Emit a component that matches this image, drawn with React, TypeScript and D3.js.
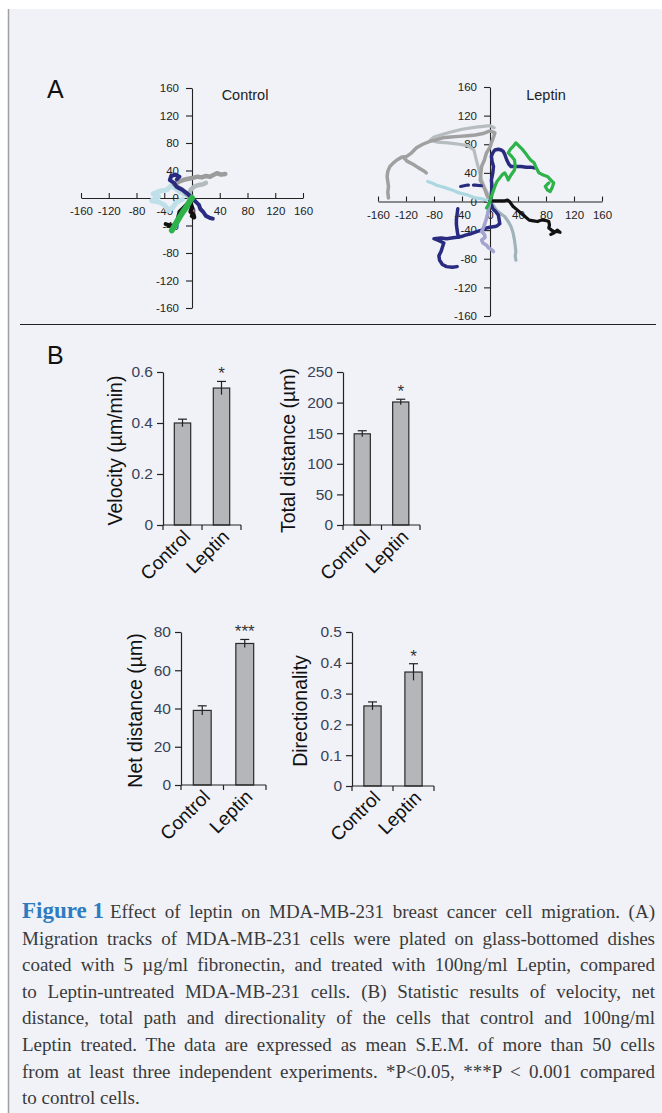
import React, { useEffect, useRef } from 'react'
import * as d3 from 'd3'

type Pt = [number, number]

// ---- panel A: migration tracks (µm) ----
const trackTicks = [-160, -120, -80, -40, 0, 40, 80, 120, 160]

const controlGray: Pt[] = [[0, 0], [-8, 6], [-14, 12], [-22, 17], [-26, 20], [-18, 24], [-10, 27], [0, 29], [8, 31], [14, 30], [20, 32], [26, 31], [30, 33], [36, 36], [42, 34], [48, 35]]
const controlSilver: Pt[] = [[0, 0], [-4, 6], [-2, 12], [4, 17], [10, 19], [16, 20], [20, 22]]
const controlCyan: Pt[] = [[0, 0], [-8, 4], [-16, 8], [-24, 14], [-30, 18], [-36, 12], [-46, 10], [-56, 6], [-48, 2], [-58, -4], [-48, -6], [-40, -10], [-34, -18], [-28, -14], [-22, -6], [-14, -2]]
const controlNavy1: Pt[] = [[0, 0], [-6, 6], [-14, 12], [-22, 16], [-26, 22], [-32, 26], [-30, 32], [-24, 34], [-18, 31], [-22, 27]]
const controlNavy2: Pt[] = [[0, 0], [6, -6], [10, -10], [12, -16], [16, -20], [20, -26], [26, -29], [30, -30]]
const controlGreen: Pt[] = [[0, 0], [-4, -6], [-8, -13], [-13, -20], [-18, -28], [-22, -35], [-26, -42], [-29, -47]]
const controlBlack1: Pt[] = [[0, 0], [-6, -8], [-12, -14], [-18, -20], [-20, -28], [-22, -36], [-26, -40], [-32, -40], [-38, -38]]
const controlBlack2: Pt[] = [[0, 0], [-2, -8], [0, -14], [-2, -20], [2, -24], [3, -28], [0, -26]]

const leptinGray: Pt[] = [[0, 0], [-4, 8], [-7, 16], [-11, 24], [-14, 30], [-13, 40], [-12, 49], [-8, 58], [-5, 68], [0, 76], [2, 82], [5, 90], [7, 96], [2, 98], [-2, 98], [-10, 95], [-21, 93], [-32, 92], [-44, 91], [-56, 90], [-68, 89], [-78, 86], [-86, 84], [-96, 80], [-105, 75], [-112, 68], [-119, 63], [-126, 62], [-133, 58], [-138, 54], [-143, 49], [-146, 42], [-147, 35], [-146, 28], [-145, 21], [-146, 13], [-145, 5]]
const leptinGrayBranch: Pt[] = [[-124, 62], [-118, 56], [-110, 52], [-102, 47], [-95, 43], [-91, 40]]
const leptinSilver: Pt[] = [[0, 0], [-3, 10], [-8, 20], [-12, 30], [-16, 45], [-20, 60], [-23, 72], [-32, 78], [-44, 80], [-60, 82], [-75, 83], [-85, 86], [-80, 90], [-60, 96], [-40, 101], [-20, 104], [0, 106], [6, 103]]
const leptinSteel: Pt[] = [[0, 0], [5, -6], [9, -12], [15, -17], [21, -21], [26, -28], [30, -35], [33, -44], [35, -54], [36, -62], [37, -70], [36, -76], [37, -82]]
const leptinCyan: Pt[] = [[0, 0], [-5, 2], [-13, 4], [-21, 5], [-32, 9], [-44, 12], [-54, 16], [-63, 19], [-70, 21], [-77, 23], [-83, 26], [-89, 28]]
const leptinNavyDash: Pt[] = [[-42, 21], [-32, 23], [-21, 23], [-12, 22], [-6, 20]]
const leptinNavyUp: Pt[] = [[0, 0], [2, 6], [2, 12], [3, 20], [2, 30], [4, 40], [5, 49], [3, 56], [2, 63], [4, 68], [7, 72], [12, 73], [16, 72], [19, 70], [21, 66], [24, 58], [27, 52], [30, 49], [37, 49], [44, 49], [52, 48], [58, 48], [63, 47]]
const leptinGreen: Pt[] = [[-5, -9], [-2, -4], [0, 0], [3, 10], [7, 21], [10, 28], [14, 33], [18, 38], [21, 40], [24, 35], [26, 30], [30, 37], [35, 44], [36, 50], [35, 58], [31, 63], [26, 68], [29, 73], [33, 77], [37, 82], [42, 77], [47, 72], [51, 67], [54, 63], [58, 58], [63, 54], [66, 47], [70, 40], [76, 37], [82, 35], [87, 30], [91, 26], [89, 20], [86, 14], [82, 16], [79, 21], [84, 26]]
const leptinBlack: Pt[] = [[0, 0], [4, 1], [10, 1], [16, 1], [21, 1], [25, 2], [28, 0], [30, -3], [33, -7], [38, -11], [44, -16], [50, -21], [56, -26], [62, -27], [68, -28], [73, -26], [77, -26], [81, -27], [84, -28], [85, -33], [84, -37], [88, -40], [91, -42], [96, -42], [100, -43], [96, -40], [91, -44], [87, -46]]
const leptinNavyLow: Pt[] = [[0, 0], [2, -5], [4, -10], [8, -14], [12, -19], [13, -25], [14, -31], [10, -34], [7, -35], [0, -36], [-5, -37], [-12, -40], [-19, -42], [-27, -45], [-35, -47], [-41, -49], [-47, -50], [-55, -51], [-62, -52], [-70, -51], [-80, -52], [-72, -55], [-66, -58], [-68, -64], [-70, -70], [-73, -76], [-72, -82], [-68, -88], [-62, -91], [-54, -92], [-47, -91]]
const leptinNavyLow2: Pt[] = [[-46, -10], [-47, -18], [-48, -25], [-48, -32], [-47, -40], [-46, -46], [-45, -50]]
const leptinLavender: Pt[] = [[0, 0], [-2, -10], [-4, -20], [-7, -30], [-10, -38], [-12, -42], [-8, -46], [-7, -50], [-12, -54], [-10, -58], [-5, -61], [-2, -65], [2, -67], [5, -70]]

// ---- panel B: bar charts ----
const groups = ['Control', 'Leptin']
const velocityMean = [0.40, 0.537]
const velocityErr = [0.015, 0.026]
const totalMean = [149, 201]
const totalErr = [5, 4.5]
const netMean = [39, 74]
const netErr = [2.4, 2.1]
const dirMean = [0.26, 0.37]
const dirErr = [0.013, 0.027]
const velocityTicks = [0, 0.2, 0.4, 0.6]
const totalTicks = [0, 50, 100, 150, 200, 250]
const netTicks = [0, 20, 40, 60, 80]
const dirTicks = [0, 0.1, 0.2, 0.3, 0.4, 0.5]

const captionLines = [
  'Effect of leptin on MDA-MB-231 breast cancer cell migration. (A)',
  'Migration tracks of MDA-MB-231 cells were plated on glass-bottomed dishes',
  'coated with 5 µg/ml fibronectin, and treated with 100ng/ml Leptin, compared',
  'to Leptin-untreated MDA-MB-231 cells. (B) Statistic results of velocity, net',
  'distance, total path and directionality of the cells that control and 100ng/ml',
  'Leptin treated. The data are expressed as mean S.E.M. of more than 50 cells',
  'from at least three independent experiments. *P<0.05, ***P < 0.001 compared',
  'to control cells.'
]

const SANS = 'Liberation Sans, Arial, sans-serif'
const SERIF = 'Liberation Serif, Times New Roman, serif'
const NAVY = '#282b80'

function drawTracks(svg: any, opts: any) {
  const x = d3.scaleLinear().domain([-160, 160]).range(opts.xRange)
  const y = d3.scaleLinear().domain([-160, 160]).range(opts.yRange)
  const g = svg.append('g')
  const fmt = (d: number) => String(d)

  const xa = g.append('g')
    .attr('transform', `translate(0,${y(0)})`)
    .call(d3.axisBottom(x).tickValues(trackTicks).tickFormat(fmt).tickSizeInner(-5).tickSizeOuter(0).tickPadding(9))
  const ya = g.append('g')
    .attr('transform', `translate(${x(0)},0)`)
    .call(d3.axisLeft(y).tickValues(trackTicks).tickFormat(fmt).tickSizeInner(6).tickSizeOuter(0).tickPadding(7))
  ;[xa, ya].forEach(a => {
    a.attr('font-family', SANS).attr('font-size', 11.5)
    a.selectAll('.domain, .tick line').attr('stroke', '#222').attr('stroke-width', 1.1)
    a.selectAll('.tick text').attr('fill', '#222')
  })

  const line = d3.line<Pt>().x(d => x(d[0])).y(d => y(d[1]))
  opts.tracks.forEach((t: any) => {
    g.append('path')
      .attr('d', line(t.pts))
      .attr('fill', 'none')
      .attr('stroke', t.color)
      .attr('stroke-width', t.width || 3.2)
      .attr('stroke-linejoin', 'round')
      .attr('stroke-linecap', 'round')
      .attr('stroke-dasharray', t.dash || null)
  })

  g.append('text')
    .attr('x', opts.titleX).attr('y', 100)
    .attr('text-anchor', 'middle')
    .attr('font-family', SANS).attr('font-size', 14.5).attr('fill', '#222')
    .text(opts.title)
}

function drawBars(svg: any, c: any) {
  const x = d3.scaleBand().domain(groups).range([c.x0, c.x1]).paddingInner(0.58).paddingOuter(0.29)
  const y = d3.scaleLinear().domain([0, c.max]).range([c.y0, c.yTop])
  const g = svg.append('g')

  g.selectAll('rect.bar')
    .data(c.means)
    .join('rect')
    .attr('class', 'bar')
    .attr('x', (d: number, i: number) => x(groups[i]))
    .attr('y', (d: number) => y(d))
    .attr('width', x.bandwidth())
    .attr('height', (d: number) => c.y0 - y(d))
    .attr('fill', '#b5b6ba')
    .attr('stroke', '#2a2a2a')
    .attr('stroke-width', 1.2)

  const cx = (i: number) => (x(groups[i]) as number) + x.bandwidth() / 2
  c.means.forEach((m: number, i: number) => {
    const e = c.errs[i]
    g.append('line').attr('x1', cx(i)).attr('x2', cx(i)).attr('y1', y(m - e)).attr('y2', y(m + e))
      .attr('stroke', '#222').attr('stroke-width', 1.2)
    g.append('line').attr('x1', cx(i) - 4.5).attr('x2', cx(i) + 4.5).attr('y1', y(m + e)).attr('y2', y(m + e))
      .attr('stroke', '#222').attr('stroke-width', 1.2)
    if (c.stars[i]) {
      g.append('text').attr('x', cx(i)).attr('y', y(m + e) - 2)
        .attr('text-anchor', 'middle').attr('font-family', SANS).attr('font-size', 17).attr('fill', '#333')
        .text(c.stars[i])
    }
  })

  const ya = g.append('g')
    .attr('transform', `translate(${c.x0},0)`)
    .call(d3.axisLeft(y).tickValues(c.ticks).tickFormat(c.fmt).tickSizeInner(6).tickSizeOuter(0).tickPadding(4))
  ya.attr('font-family', SANS).attr('font-size', 15.5)
  ya.selectAll('.domain, .tick line').attr('stroke', '#222').attr('stroke-width', 1.2)
  ya.selectAll('.tick text').attr('fill', '#3a4258')

  g.append('line').attr('x1', c.x0).attr('x2', c.x1).attr('y1', c.y0).attr('y2', c.y0)
    .attr('stroke', '#222').attr('stroke-width', 1.2)
  ;[0, 1, 2].forEach(k => {
    const tx = c.x0 + k * x.step()
    g.append('line').attr('x1', tx).attr('x2', tx).attr('y1', c.y0).attr('y2', c.y0 + 5)
      .attr('stroke', '#222').attr('stroke-width', 1.2)
  })

  groups.forEach((name, i) => {
    g.append('text')
      .attr('transform', `translate(${cx(i) + 9},${c.y0 + 13}) rotate(-45)`)
      .attr('text-anchor', 'end')
      .attr('font-family', SANS).attr('font-size', 19).attr('fill', '#111')
      .text(name)
  })

  g.append('text')
    .attr('transform', `translate(${c.titleX},${(c.y0 + c.yTop) / 2 + 2}) rotate(-90)`)
    .attr('text-anchor', 'middle')
    .attr('font-family', SANS).attr('font-size', 19.5).attr('fill', '#111')
    .text(c.title)
}

export default function App() {
  const ref = useRef<SVGSVGElement>(null)

  useEffect(() => {
    const svg = d3.select(ref.current)
    svg.selectAll('*').remove()

    svg.append('rect').attr('x', 8).attr('y', 9).attr('width', 654).attr('height', 1104).attr('fill', '#f0f2f8')
    svg.append('line').attr('x1', 8.5).attr('x2', 8.5).attr('y1', 9).attr('y2', 1113).attr('stroke', '#a0a0a0').attr('stroke-width', 1.5)
    svg.append('line').attr('x1', 20).attr('x2', 656).attr('y1', 324.5).attr('y2', 324.5).attr('stroke', '#222').attr('stroke-width', 1.2)

    svg.append('text').attr('x', 47).attr('y', 98).attr('font-family', SANS).attr('font-size', 25).attr('fill', '#111').text('A')
    svg.append('text').attr('x', 47).attr('y', 364).attr('font-family', SANS).attr('font-size', 25).attr('fill', '#111').text('B')

    drawTracks(svg, {
      xRange: [81, 303], yRange: [308, 88], title: 'Control', titleX: 245,
      tracks: [
        { pts: controlCyan, color: '#bfe0e8', width: 5 },
        { pts: controlGray, color: '#9c9c9c', width: 4.5 },
        { pts: controlSilver, color: '#b4bbbe', width: 4.5 },
        { pts: controlNavy1, color: NAVY, width: 4 },
        { pts: controlNavy2, color: NAVY, width: 4 },
        { pts: controlBlack1, color: '#111', width: 4 },
        { pts: controlBlack2, color: '#111', width: 4.5 },
        { pts: controlGreen, color: '#2db34a', width: 6 }
      ]
    })

    drawTracks(svg, {
      xRange: [378, 602], yRange: [316, 87], title: 'Leptin', titleX: 546,
      tracks: [
        { pts: leptinSilver, color: '#b7bcbe' },
        { pts: leptinGray, color: '#a0a0a0', width: 3.5 },
        { pts: leptinGrayBranch, color: '#a0a0a0', width: 3.5 },
        { pts: leptinCyan, color: '#abd8e0' },
        { pts: leptinSteel, color: '#9fb3b9' },
        { pts: leptinNavyDash, color: NAVY, dash: '8,5' },
        { pts: leptinNavyUp, color: NAVY, width: 3.5 },
        { pts: leptinNavyLow, color: NAVY, width: 3.5 },
        { pts: leptinNavyLow2, color: NAVY, width: 3.5 },
        { pts: leptinLavender, color: '#a4a4d0', width: 3.5 },
        { pts: leptinBlack, color: '#111', width: 3.2 },
        { pts: leptinGreen, color: '#2db34a', width: 3.2 }
      ]
    })

    const dec = (d: number) => (d === 0 ? '0' : d.toFixed(1))
    const int = (d: number) => String(d)
    drawBars(svg, { x0: 163, x1: 241, y0: 525, yTop: 372, max: 0.6, ticks: velocityTicks, fmt: dec, means: velocityMean, errs: velocityErr, stars: ['', '*'], title: 'Velocity (µm/min)', titleX: 122 })
    drawBars(svg, { x0: 343, x1: 420, y0: 525, yTop: 372, max: 250, ticks: totalTicks, fmt: int, means: totalMean, errs: totalErr, stars: ['', '*'], title: 'Total distance (µm)', titleX: 295 })
    drawBars(svg, { x0: 181, x1: 266, y0: 785, yTop: 632, max: 80, ticks: netTicks, fmt: int, means: netMean, errs: netErr, stars: ['', '***'], title: 'Net distance (µm)', titleX: 142 })
    drawBars(svg, { x0: 352, x1: 434, y0: 786, yTop: 632, max: 0.5, ticks: dirTicks, fmt: dec, means: dirMean, errs: dirErr, stars: ['', '*'], title: 'Directionality', titleX: 307 })

    // caption, justified by word spacing
    const left = 22, right = 655, top = 918, lh = 26.6
    const fig = svg.append('text').attr('x', left).attr('y', top)
      .attr('font-family', SERIF).attr('font-size', 23).attr('font-weight', 'bold').attr('fill', '#2f7bbf')
      .text('Figure 1')
    const figW = (fig.node() as SVGTextElement).getComputedTextLength()
    captionLines.forEach((ln, i) => {
      const x0 = i === 0 ? left + figW + 6 : left
      const t = svg.append('text').attr('x', x0).attr('y', top + i * lh)
        .attr('font-family', SERIF).attr('font-size', 19).attr('fill', '#3a3a3a')
        .text(ln)
      if (i < captionLines.length - 1) {
        const w = (t.node() as SVGTextElement).getComputedTextLength()
        const spaces = (ln.match(/ /g) || []).length
        if (spaces) t.attr('word-spacing', (right - x0 - w) / spaces)
      }
    })
  }, [])

  return <svg ref={ref} width={662} height={1113} style={{ position: 'absolute', left: 0, top: 0, display: 'block' }} />
}
